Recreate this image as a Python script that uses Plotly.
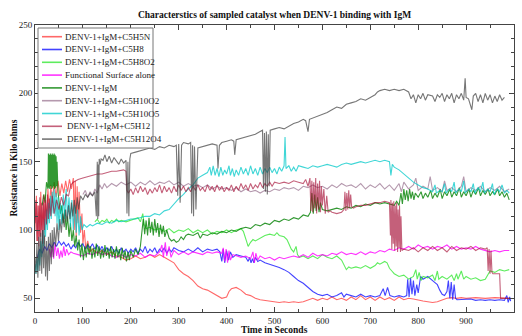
import plotly.graph_objects as go

# ---- time (s) / resistance (kOhm) readings for each sample ----
t_c5h5n = [0, 3, 5, 8, 10, 12, 14, 17, 19, 21, 24, 27, 30, 33, 36, 40, 44, 48, 52, 56, 60, 64, 68, 72, 76, 80,
           82, 84, 86, 88, 90, 92, 95, 98, 100, 103, 106, 110, 115, 120, 130, 140, 150, 160, 170, 180, 190, 200,
           210, 220, 230, 240, 250, 260, 270, 280, 290, 300, 310, 320, 330, 340, 350, 360, 370, 380, 390, 400,
           405, 410, 420, 430, 440, 450, 460, 470, 480, 490, 500, 510, 520, 530, 540, 550, 560, 570, 580, 590,
           600, 610, 620, 630, 640, 650, 660, 670, 680, 690, 700, 710, 720, 730, 740, 750, 760, 770, 780, 790,
           800, 810, 820, 830, 840, 850, 860, 870, 880, 890, 900, 920, 940, 960, 980, 990]
v_c5h5n = [100, 125, 92, 118, 95, 128, 100, 120, 90, 126, 105, 130, 112, 133, 120, 135, 124, 136, 125, 134, 127,
           136, 128, 137, 130, 138, 100, 136, 95, 132, 105, 128, 98, 112, 90, 100, 86, 92, 84, 86, 83, 85, 82, 84,
           81, 80, 78, 79, 81, 79, 80, 82, 80, 82, 80, 78, 76, 71, 68, 66, 63, 59, 57, 56, 54, 52, 50, 51, 55, 57,
           58, 56, 53, 52, 50, 49, 48.5, 48, 47.5, 47, 47.5, 47, 47.5, 47, 47.5, 49, 50, 48.5, 50, 49, 51, 49, 50,
           48.5, 51, 49, 52, 49, 51, 48.5, 51, 49, 50.5, 48.5, 51, 49, 50, 49.5, 48.5, 48, 47.5, 47, 47.5, 49, 50,
           50.5, 50, 50.5, 50, 50.5, 50, 50.5, 50, 50]

t_c5h8 = [5, 10, 15, 20, 25, 30, 35, 40, 45, 50, 55, 60, 65, 70, 75, 80, 85, 90, 95, 100, 105, 110, 115, 120,
          125, 130, 135, 140, 145, 150, 155, 160, 165, 170, 175, 180, 185, 190, 195, 200, 205, 210, 215, 220,
          225, 230, 235, 240, 245, 250, 255, 260, 265, 270, 275, 280, 285, 290, 300, 310, 320, 330, 340, 350,
          360, 370, 380, 386, 390, 393, 396, 400, 404, 408, 413, 420, 430, 440, 445, 448, 451, 454, 457, 460,
          465, 470, 480, 490, 500, 510, 520, 530, 540, 550, 560, 570, 580, 590, 600, 610, 620, 630, 640, 645,
          650, 660, 670, 680, 690, 700, 710, 720, 727, 731, 736, 741, 750, 760, 770, 776, 778, 781, 784, 787,
          790, 793, 797, 800, 805, 810, 820, 830, 840, 845, 850, 855, 860, 863, 866, 869, 872, 875, 878, 881,
          890, 900, 910, 920, 930, 940, 950, 960, 970, 980, 985, 988, 991, 993]
v_c5h8 = [80, 86, 83, 88, 85, 90, 87, 91, 88, 92, 89, 91, 88, 90, 86, 89, 87, 91, 88, 90, 86, 89, 87, 90, 86, 89,
          85, 88, 84, 87, 85, 88, 84, 86, 83, 87, 84, 86, 83, 86, 84, 87, 83, 86, 84, 88, 83, 86, 84, 87, 83, 86,
          84, 87, 83, 86, 84, 87, 85, 84, 86, 84, 87, 84, 86, 85, 86, 84, 77, 86, 76, 85, 78, 84, 80, 82, 81, 80,
          77, 80, 76, 79, 76, 80, 77, 78, 76, 75, 74, 72.5, 71, 69, 66, 63, 61, 58, 55, 53, 52, 53, 51, 52, 54,
          51, 53, 52, 51, 53, 51, 52, 51, 52, 57, 52, 58, 52, 51, 52, 51, 52, 64, 51, 65, 53, 63, 52, 60, 54, 66,
          64, 66, 63, 60, 56, 53, 52, 55, 63, 50, 62, 49, 60, 50, 49, 49, 49, 49.5, 48.5, 49, 48.5, 49, 48.5, 49,
          48.5, 52, 47, 51, 48]

t_c5h8o2 = [125, 130, 135, 140, 145, 150, 155, 160, 165, 170, 175, 180, 190, 200, 210, 215, 220, 225, 228, 232,
            240, 250, 260, 270, 280, 290, 300, 310, 320, 330, 340, 350, 360, 370, 380, 390, 400, 410, 420, 430,
            435, 440, 445, 450, 455, 460, 470, 480, 490, 500, 505, 510, 520, 526, 530, 535, 540, 545, 548, 552,
            560, 570, 580, 590, 600, 610, 620, 630, 640, 645, 650, 655, 660, 670, 680, 690, 700, 710, 715, 720,
            730, 735, 740, 745, 750, 760, 770, 780, 790, 795, 798, 802, 806, 810, 820, 830, 835, 840, 843, 850,
            860, 870, 875, 880, 883, 890, 895, 900, 910, 920, 930, 940, 945, 950, 960, 970, 980, 990]
v_c5h8o2 = [106, 108, 105, 107, 106, 108, 105, 107, 106, 108, 106, 107, 106, 107, 108, 109, 106, 112, 104, 101,
            102, 100, 101, 99, 101, 98, 100, 99, 101, 98, 100, 98, 100, 97, 99, 98, 100, 98, 100, 101, 99, 93, 88,
            91, 93, 92, 94, 96, 97, 96, 98, 96, 95, 93, 90, 86, 84, 88, 82, 80, 81, 79, 81, 79, 82, 80, 79, 81, 78,
            75, 71, 73, 72, 73, 72, 74, 72, 74, 76, 75, 77, 76, 72, 70, 68, 66, 67, 64, 66, 71, 64, 69, 63, 66, 65,
            67, 63, 70, 64, 66, 64, 67, 63, 68, 64, 70, 64, 66, 64, 65, 63, 64, 67, 70, 69, 71, 70, 71]

t_surface = [30, 33, 36, 39, 42, 45, 48, 51, 54, 57, 60, 63, 66, 70, 75, 80, 90, 100, 110, 120, 130, 140, 150, 160,
             170, 180, 190, 200, 210, 220, 230, 240, 250, 260, 265, 268, 272, 275, 280, 284, 290, 300, 310, 320,
             330, 340, 350, 360, 370, 380, 390, 393, 396, 399, 402, 405, 408, 413, 420, 430, 440, 450, 455, 458,
             461, 465, 470, 480, 490, 500, 510, 520, 530, 540, 550, 560, 570, 580, 590, 600, 610, 620, 630, 640,
             650, 660, 670, 680, 690, 700, 710, 720, 730, 740, 750, 760, 770, 780, 790, 800, 810, 820, 830, 840,
             850, 860, 870, 880, 890, 900, 910, 920, 930, 940, 950, 960, 970, 980, 990]
v_surface = [86, 80, 88, 79, 90, 81, 87, 79, 85, 80, 88, 81, 86, 82, 84, 83, 82, 81, 83, 82, 84, 82, 83, 81, 80,
             82, 80, 82, 81, 83, 80, 82, 81, 84, 89, 80, 91, 81, 88, 80, 85, 82, 84, 82, 84, 83, 82, 84, 83, 84, 83,
             87, 77, 86, 76, 85, 78, 82, 81, 80, 81, 79, 84, 76, 83, 78, 81, 79, 80, 78, 80, 79, 80, 81, 80, 82, 80,
             83, 81, 82, 81, 83, 82, 84, 82, 83, 82, 84, 82, 84, 83, 85, 84, 86, 85, 87, 86, 88, 86, 89, 87, 88, 86,
             88, 87, 89, 86, 88, 86, 87, 86, 88, 86, 85, 84, 85, 84, 85, 85]

t_igm = [15, 18, 21, 24, 27, 28, 29, 30, 31, 32, 33, 34, 35, 36, 37, 38, 39, 40, 41, 42, 43, 44, 45, 46, 48, 50,
         53, 56, 59, 62, 65, 68, 71, 74, 77, 80, 83, 86, 89, 92, 95, 98, 101, 104, 107, 110, 113, 116, 119, 122,
         125, 128, 131, 134, 137, 140, 143, 146, 149, 152, 155, 158, 161, 164, 167, 170, 173, 176, 179, 182, 185,
         188, 191, 194, 197, 200, 205, 210, 215, 220, 223, 226, 229, 232, 235, 238, 241, 244, 247, 250, 253, 256,
         259, 262, 265, 268, 271, 275, 280, 285, 290, 295, 300, 305, 310, 315, 320, 330, 340, 345, 350, 360, 370,
         380, 390, 400, 410, 420, 430, 440, 450, 460, 470, 480, 490, 500, 510, 520, 530, 540, 550, 560, 570, 575,
         578, 581, 584, 587, 590, 593, 596, 600, 610, 620, 630, 640, 650, 660, 670, 680, 690, 700, 710, 720, 730,
         740, 750, 755, 760, 764, 767, 770, 773, 776, 779, 782, 785, 788, 791, 794, 800, 806, 810, 815, 820, 826,
         830, 835, 840, 846, 850, 855, 860, 866, 870, 875, 880, 886, 890, 895, 900, 906, 910, 915, 920, 926, 930,
         935, 940, 946, 950, 955, 960, 966, 970, 975, 980, 985, 990]
v_igm = [118, 126, 120, 135, 130, 156, 131, 155, 130, 156, 132, 155, 130, 156, 131, 155, 132, 156, 130, 155, 131,
         154, 132, 150, 128, 120, 112, 118, 105, 115, 100, 110, 95, 105, 92, 100, 88, 96, 85, 93, 80, 90, 78, 88,
         80, 90, 82, 88, 79, 87, 80, 90, 81, 88, 79, 86, 80, 89, 81, 87, 79, 88, 80, 86, 79, 88, 80, 86, 78, 87,
         79, 85, 77, 84, 78, 85, 80, 86, 82, 88, 100, 108, 97, 107, 96, 109, 98, 106, 96, 108, 98, 105, 95, 104,
         97, 103, 95, 100, 94, 92, 93, 91, 92, 95, 93, 96, 97, 96, 98, 94, 97, 96, 98, 97, 99, 98, 100, 99, 101,
         102, 101, 104, 103, 105, 104, 107, 106, 108, 107, 109, 108, 111, 110, 113, 127, 112, 126, 114, 124, 113,
         120, 115, 114, 115, 116, 115, 117, 116, 118, 117, 119, 118, 120, 119, 120, 119, 118, 121, 118, 127, 119,
         130, 122, 129, 121, 130, 123, 128, 122, 127, 124, 128, 123, 127, 124, 129, 123, 127, 124, 130, 123, 128,
         125, 130, 124, 128, 125, 131, 124, 128, 125, 130, 124, 129, 126, 131, 125, 129, 126, 130, 125, 128, 126,
         130, 125, 128, 124, 127, 122]

t_c5h10o2 = [100, 105, 110, 115, 120, 125, 130, 135, 140, 145, 150, 160, 170, 180, 190, 200, 210, 220, 230, 240,
             250, 260, 270, 280, 290, 300, 310, 320, 330, 340, 350, 360, 370, 380, 390, 400, 410, 420, 430, 440,
             450, 460, 470, 480, 490, 500, 510, 520, 530, 540, 550, 560, 570, 580, 590, 600, 610, 620, 630, 640,
             650, 660, 670, 680, 690, 700, 710, 720, 730, 740, 750, 760, 765, 770, 780, 790, 795, 800, 810, 820,
             825, 830, 840, 850, 855, 860, 870, 880, 890, 895, 900, 910, 920, 930, 940, 950, 960, 970, 980, 990]
v_c5h10o2 = [126, 129, 124, 128, 125, 130, 127, 133, 130, 134, 131, 134, 132, 135, 133, 135, 132, 135, 133, 136,
             133, 135, 134, 136, 133, 135, 132, 134, 132, 133, 131, 133, 130, 132, 130, 131, 129, 131, 128, 130,
             128, 129, 127, 129, 128, 130, 129, 131, 130, 131, 129, 132, 131, 133, 131, 132, 130, 133, 131, 134,
             132, 133, 131, 134, 130, 133, 131, 134, 130, 133, 129, 134, 128, 135, 130, 133, 138, 129, 132, 130,
             139, 129, 131, 128, 136, 129, 131, 128, 132, 139, 128, 131, 129, 132, 128, 131, 129, 132, 128, 130]

t_c5h10o5 = [0, 2, 4, 6, 8, 10, 12, 14, 16, 18, 20, 22, 24, 26, 28, 30, 32, 34, 36, 38, 40, 42, 44, 46, 48, 50,
             53, 56, 59, 62, 65, 68, 71, 74, 77, 80, 83, 86, 89, 92, 95, 98, 102, 108, 115, 120, 130, 140, 150,
             160, 170, 180, 190, 200, 210, 220, 230, 240, 250, 260, 270, 280, 290, 300, 310, 320, 330, 340, 350,
             360, 365, 368, 372, 376, 380, 384, 388, 392, 396, 400, 405, 408, 412, 416, 420, 425, 430, 435, 440,
             445, 450, 455, 460, 465, 470, 475, 480, 485, 490, 495, 500, 505, 510, 515, 520, 522, 524, 530, 535,
             540, 545, 550, 560, 570, 580, 590, 600, 610, 620, 630, 640, 650, 660, 670, 680, 690, 700, 710, 720,
             730, 740, 743, 746, 750, 760, 770, 780, 790, 800, 810, 820, 830, 835, 838, 845, 850, 855, 858, 865,
             870, 875, 878, 885, 890, 895, 898, 905, 910, 915, 918, 925, 930, 935, 938, 945, 950, 955, 958, 965,
             970, 975, 980, 985, 990]
v_c5h10o5 = [75, 68, 80, 70, 85, 74, 92, 80, 100, 88, 108, 95, 115, 100, 120, 105, 125, 108, 128, 112, 130, 110,
             127, 105, 124, 100, 120, 104, 126, 108, 130, 110, 124, 102, 122, 100, 118, 98, 115, 96, 110, 100, 104,
             102, 104, 103, 105, 104, 106, 105, 107, 106, 107, 108, 108, 109, 110, 110, 112, 111, 114, 115, 119,
             123, 126, 130, 133, 138, 140, 142, 146, 140, 147, 140, 145, 139, 146, 140, 144, 141, 147, 140, 145,
             139, 144, 140, 146, 141, 145, 140, 147, 141, 145, 140, 146, 141, 145, 142, 146, 142, 145, 141, 146,
             143, 147, 168, 145, 147, 143, 146, 143, 147, 146, 145, 147, 146, 147, 148, 147, 146, 148, 149, 148,
             149, 150, 149, 150, 151, 150, 151, 150, 140, 148, 146, 144, 141, 138, 135, 133, 131, 130, 128, 133,
             127, 129, 128, 134, 127, 130, 128, 135, 127, 130, 128, 136, 127, 130, 128, 134, 127, 131, 128, 135,
             127, 130, 128, 134, 126, 130, 128, 133, 127, 129, 127]

t_c5h12 = [0, 2, 4, 6, 8, 10, 12, 14, 16, 18, 20, 22, 24, 26, 28, 30, 33, 36, 40, 45, 50, 55, 60, 65, 70, 75, 80,
           90, 100, 110, 120, 130, 140, 150, 160, 170, 180, 185, 190, 192, 195, 200, 205, 210, 215, 220, 225, 230,
           235, 240, 245, 250, 255, 260, 265, 270, 275, 280, 285, 290, 295, 300, 305, 310, 315, 320, 325, 330,
           335, 340, 345, 350, 355, 360, 365, 370, 375, 380, 385, 390, 395, 400, 405, 410, 415, 420, 425, 430,
           435, 440, 445, 450, 455, 460, 465, 470, 475, 480, 485, 490, 495, 500, 510, 520, 530, 540, 550, 560,
           565, 570, 574, 576, 578, 580, 582, 584, 586, 588, 590, 592, 594, 596, 598, 600, 603, 606, 609, 612,
           616, 620, 630, 640, 645, 647, 649, 651, 653, 655, 657, 659, 661, 665, 670, 680, 690, 700, 710, 720,
           730, 740, 742, 743, 745, 746, 748, 749, 751, 752, 754, 755, 757, 758, 760, 761, 763, 764, 766, 770,
           780, 790, 800, 810, 820, 830, 840, 850, 860, 870, 880, 890, 900, 910, 920, 930, 940, 944, 946, 948,
           950, 952, 954, 956, 962, 970, 972, 980, 990]
v_c5h12 = [105, 122, 92, 118, 88, 124, 95, 120, 90, 125, 100, 122, 104, 126, 108, 123, 110, 125, 112, 122, 115,
           124, 118, 126, 125, 133, 135, 137, 138, 139, 140, 141, 141, 142, 143, 143, 144, 144, 143, 129, 127,
           130, 126, 131, 127, 132, 128, 131, 126, 130, 127, 131, 128, 133, 127, 132, 128, 131, 127, 132, 128,
           133, 129, 132, 128, 131, 128, 132, 129, 133, 129, 131, 128, 133, 129, 132, 128, 133, 129, 132, 128,
           131, 129, 133, 128, 132, 129, 134, 130, 133, 129, 134, 130, 133, 131, 135, 131, 134, 132, 135, 132,
           135, 134, 135, 134, 136, 135, 134, 137, 132, 138, 114, 136, 113, 135, 116, 138, 112, 134, 115, 136,
           113, 132, 118, 130, 112, 125, 113, 114, 113, 112, 113, 115, 128, 114, 127, 115, 129, 116, 126, 117,
           116, 117, 118, 118, 119, 120, 120, 121, 120, 96, 122, 86, 120, 90, 121, 85, 118, 88, 120, 84, 115, 87,
           118, 84, 110, 85, 86, 85, 87, 84, 87, 85, 88, 85, 87, 84, 88, 85, 87, 86, 88, 85, 87, 86, 87, 70, 86,
           68, 85, 69, 68, 68, 68, 50, 50, 50]

t_c5h12o4 = [0, 2, 4, 6, 8, 10, 12, 14, 16, 18, 20, 22, 24, 26, 28, 30, 32, 34, 36, 38, 40, 43, 46, 49, 52, 55,
             58, 61, 64, 67, 70, 73, 76, 79, 82, 85, 88, 91, 95, 100, 105, 110, 115, 120, 125, 128, 130, 131,
             132, 133, 134, 136, 138, 142, 146, 150, 155, 160, 165, 170, 175, 180, 185, 190, 192, 194, 196, 198,
             200, 210, 220, 230, 240, 250, 260, 270, 280, 290, 295, 298, 300, 303, 306, 310, 320, 325, 327, 329,
             331, 333, 336, 340, 350, 360, 370, 380, 382, 385, 390, 400, 410, 415, 417, 420, 430, 440, 450, 460,
             470, 475, 477, 479, 481, 483, 485, 487, 489, 491, 500, 510, 520, 530, 540, 550, 560, 565, 570, 573,
             580, 590, 600, 610, 620, 630, 640, 650, 660, 670, 680, 690, 700, 710, 715, 720, 730, 740, 750, 760,
             770, 780, 785, 790, 795, 800, 805, 810, 815, 820, 830, 835, 840, 845, 850, 855, 860, 865, 870, 875,
             880, 885, 890, 895, 898, 900, 905, 912, 915, 920, 925, 930, 935, 940, 945, 950, 955, 960, 965, 970,
             975, 980]
v_c5h12o4 = [80, 68, 90, 65, 95, 70, 98, 68, 100, 72, 96, 66, 92, 63, 95, 70, 98, 75, 100, 80, 102, 88, 105, 92,
             108, 98, 112, 102, 115, 106, 118, 108, 120, 110, 122, 112, 124, 115, 125, 122, 126, 124, 127, 125,
             128, 110, 150, 108, 148, 110, 152, 148, 152, 151, 155, 150, 154, 149, 153, 150, 148, 152, 149, 151,
             112, 150, 110, 152, 156, 157, 158, 159, 160, 159, 161, 160, 162, 161, 162, 125, 163, 120, 162, 164,
             163, 164, 112, 162, 110, 161, 115, 160, 161, 162, 163, 162, 145, 162, 164, 165, 166, 165, 155, 166,
             167, 168, 169, 170, 172, 173, 130, 171, 128, 172, 126, 170, 132, 173, 174, 175, 174, 176, 178, 179,
             181, 180, 172, 181, 182, 183, 185, 186, 188, 190, 189, 192, 193, 194, 196, 195, 197, 199, 201, 202,
             203, 202, 203, 202, 203, 201, 196, 199, 193, 199, 196, 200, 195, 199, 198, 194, 199, 197, 200, 194,
             199, 196, 200, 193, 199, 196, 200, 195, 211, 197, 196, 188, 198, 200, 194, 199, 193, 200, 195, 199,
             193, 198, 194, 199, 195, 197]

series = [
    ("DENV-1+IgM+C5H5N", t_c5h5n, v_c5h5n, "rgba(255,40,40,0.7)"),
    ("DENV-1+IgM+C5H8", t_c5h8, v_c5h8, "rgba(20,20,255,0.8)"),
    ("DENV-1+IgM+C5H8O2", t_c5h8o2, v_c5h8o2, "rgba(40,230,40,0.75)"),
    ("Functional Surface alone", t_surface, v_surface, "rgba(255,0,255,0.8)"),
    ("DENV-1+IgM", t_igm, v_igm, "rgba(0,128,0,0.8)"),
    ("DENV-1+IgM+C5H10O2", t_c5h10o2, v_c5h10o2, "rgba(150,110,140,0.7)"),
    ("DENV-1+IgM+C5H10O5", t_c5h10o5, v_c5h10o5, "rgba(0,200,200,0.75)"),
    ("DENV-1+IgM+C5H12", t_c5h12, v_c5h12, "rgba(165,10,50,0.65)"),
    ("DENV-1+IgM+C5H12O4", t_c5h12o4, v_c5h12o4, "rgba(60,60,60,0.7)"),
]

serif = "Liberation Serif"
fig = go.Figure()
for name, t, v, color in series:
    fig.add_trace(go.Scatter(x=t, y=v, mode="lines", name=name,
                             line=dict(color=color, width=1.1), showlegend=False))

# compact boxed key in the upper-left corner (paper coordinates)
W, H = 522, 336
ML, MR, MT, MB = 35, 8, 25, 24
pw, ph = W - ML - MR, H - MT - MB


def px(x):
    return (x - ML) / pw


def py(y):
    return 1 - (y - MT) / ph


shapes = [dict(type="rect", xref="paper", yref="paper",
               x0=px(38), x1=px(153), y0=py(148), y1=py(28),
               fillcolor="white", line=dict(color="#777", width=1), layer="above")]
annotations = []
for i, (name, _, _, color) in enumerate(series):
    yc = 36.7 + 12.8 * i
    shapes.append(dict(type="line", xref="paper", yref="paper",
                       x0=px(42), x1=px(62), y0=py(yc), y1=py(yc),
                       line=dict(color=color, width=1.6), layer="above"))
    annotations.append(dict(xref="paper", yref="paper", x=px(63 if i < 7 else 65), y=py(yc),
                            xanchor="left", yanchor="middle", showarrow=False,
                            text=name, font=dict(family=serif, size=9, color="#222")))

# axis titles placed by hand so they sit where the frame leaves room
annotations.append(dict(xref="paper", yref="paper", x=px(13), y=0.5,
                        xanchor="center", yanchor="middle", showarrow=False, textangle=-90,
                        text="<b>Resistance in Kilo ohms</b>",
                        font=dict(family=serif, size=9.5, color="#111")))
annotations.append(dict(xref="paper", yref="paper", x=0.5, y=py(330),
                        xanchor="center", yanchor="middle", showarrow=False,
                        text="<b>Time in Seconds</b>",
                        font=dict(family=serif, size=9.5, color="#111")))

axis_common = dict(
    showline=True, linecolor="#444", linewidth=1, mirror="ticks",
    ticks="inside", ticklen=5, tickcolor="#444", tickwidth=1,
    showgrid=False, zeroline=False,
    tickfont=dict(family=serif, size=9, color="#222"),
)

fig.update_layout(
    width=W, height=H,
    margin=dict(l=ML, r=MR, t=MT, b=MB),
    paper_bgcolor="white", plot_bgcolor="white",
    title=dict(text="<b>Characterstics of sampled catalyst when DENV-1 binding with IgM</b>",
               x=0.5, xref="paper", y=0.955, yanchor="middle",
               font=dict(family=serif, size=9.5, color="#111")),
    xaxis=dict(range=[0, 1000], dtick=100, tick0=0,
               minor=dict(ticks="inside", dtick=50, ticklen=3, tickcolor="#444"),
               **axis_common),
    yaxis=dict(range=[40, 250], tickvals=[50, 100, 150, 200, 250],
               minor=dict(ticks="inside", dtick=10, ticklen=3, tickcolor="#444"),
               **axis_common),
    shapes=shapes,
    annotations=annotations,
    showlegend=False,
)

fig.write_html("out.html")
